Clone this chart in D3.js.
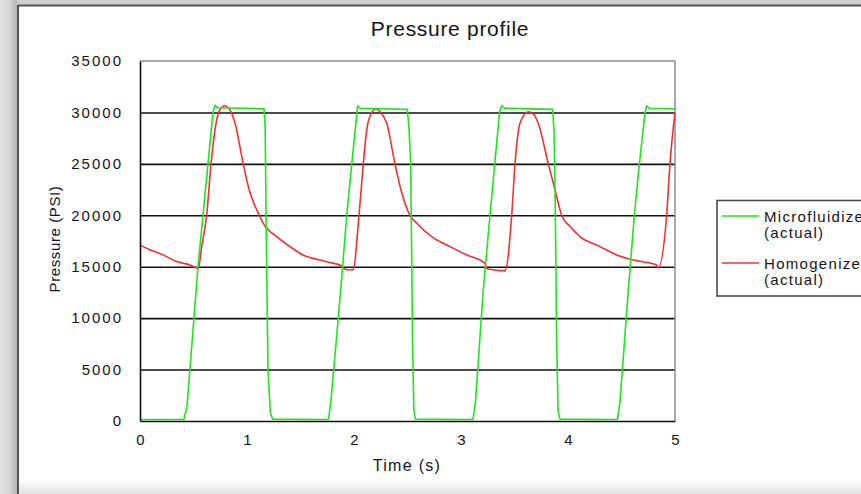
<!DOCTYPE html>
<html>
<head>
<meta charset="utf-8">
<script src="https://cdn.jsdelivr.net/npm/d3@7"></script>
<style>
  html, body { margin: 0; padding: 0; background: #fff; }
  svg { display: block; font-family: "Liberation Sans", Arial, sans-serif; }
</style>
</head>
<body>
<svg id="chart" width="861" height="494"></svg>
<script>
// Time axis (seconds) and pressure axis (PSI) tick labels
const xTicks = [0, 1, 2, 3, 4, 5];
const yTicks = [0, 5000, 10000, 15000, 20000, 25000, 30000, 35000];

// Microfluidizer (actual): time in s, pressure in PSI
const microTime = [0, 0.41, 0.44, 0.542, 0.682, 0.70, 0.73, 1.159, 1.17, 1.178, 1.196, 1.218, 1.24,
  1.762, 1.785, 1.876, 1.932, 1.979, 2.028, 2.035, 2.06, 2.498, 2.514, 2.53, 2.547, 2.559, 2.575,
  3.112, 3.135, 3.208, 3.271, 3.36, 3.38, 3.41, 3.857, 3.87, 3.879, 3.894, 3.907, 3.925,
  4.462, 4.485, 4.564, 4.62, 4.667, 4.72, 4.736, 4.76, 5.0];
const microPressure = [150, 150, 1500, 15000, 30000, 30700, 30450, 30350, 28500, 20000, 5000, 800, 180,
  150, 2000, 12750, 20000, 25000, 30000, 30650, 30400, 30300, 28500, 25000, 8000, 1000, 180,
  150, 1800, 12750, 20000, 30000, 30650, 30400, 30300, 28000, 22460, 8000, 1000, 180,
  150, 1800, 12750, 20000, 25000, 30000, 30650, 30400, 30350];

// Homogenizer (actual): time in s, pressure in PSI
const homoTime = [0, 0.093, 0.215, 0.343, 0.467, 0.545, 0.577, 0.623, 0.664, 0.701, 0.732, 0.788, 0.841,
  0.888, 0.965, 1.021, 1.065, 1.115, 1.152, 1.278, 1.402, 1.523, 1.682, 1.80, 1.869, 1.90, 1.935, 1.991,
  2.047, 2.087, 2.119, 2.156, 2.206, 2.25, 2.306, 2.383, 2.439, 2.523, 2.586, 2.726, 2.897, 3.053,
  3.224, 3.243, 3.411, 3.474, 3.505, 3.551, 3.629, 3.68, 3.722, 3.816, 3.879, 3.941, 4.019, 4.112,
  4.299, 4.455, 4.61, 4.829, 4.844, 4.922, 4.953, 5.0];
const homoPressure = [17100, 16650, 16150, 15500, 15170, 14850, 16950, 20000, 25000, 28300, 29920, 30650, 30230,
  28940, 25000, 22460, 21160, 20000, 19220, 17920, 16950, 16140, 15650, 15350, 15170, 14900, 14700, 14700,
  20000, 25000, 28300, 29800, 30330, 30000, 28940, 25000, 22460, 20000, 19220, 17920, 16950, 16140,
  15330, 14800, 14600, 20000, 25000, 28940, 30070, 29800, 28940, 25000, 22460, 20000, 18900, 17920,
  16950, 16140, 15650, 15170, 14900, 20000, 25000, 30000];

const seriesNames = [["Microfluidizer", "(actual)"], ["Homogenizer", "(actual)"]];
const seriesColors = ["#1ee61e", "#f23232"];

const svg = d3.select("#chart");
const W = 861, H = 494;

// window frame around the chart
const defs = svg.append("defs");
const lg = defs.append("linearGradient").attr("id", "leftBand").attr("x1", 0).attr("x2", 1);
lg.append("stop").attr("offset", "0%").attr("stop-color", "#e4e4e4");
lg.append("stop").attr("offset", "60%").attr("stop-color", "#d2d2d2");
lg.append("stop").attr("offset", "100%").attr("stop-color", "#b4b4b4");
const bg = defs.append("linearGradient").attr("id", "bottomBand").attr("x1", 0).attr("x2", 0).attr("y1", 0).attr("y2", 1);
bg.append("stop").attr("offset", "0%").attr("stop-color", "#ffffff");
bg.append("stop").attr("offset", "100%").attr("stop-color", "#e2e2e2");

svg.append("rect").attr("x", 0).attr("y", 0).attr("width", W).attr("height", H).attr("fill", "#fff");
svg.append("rect").attr("x", 0).attr("y", 0).attr("width", W).attr("height", 5).attr("fill", "#d0d0d0");
svg.append("rect").attr("x", 0).attr("y", 0).attr("width", 17).attr("height", H).attr("fill", "url(#leftBand)");
svg.append("rect").attr("x", 19).attr("y", 480).attr("width", W - 19).attr("height", 14).attr("fill", "url(#bottomBand)");
svg.append("line").attr("x1", 18).attr("x2", W).attr("y1", 5.5).attr("y2", 5.5).attr("stroke", "#555").attr("stroke-width", 2);
svg.append("line").attr("x1", 18).attr("x2", 18).attr("y1", 5).attr("y2", H).attr("stroke", "#555").attr("stroke-width", 2);

// plot area
const plot = { left: 140, right: 675, top: 61, bottom: 421 };
const x = d3.scaleLinear().domain([0, 5]).range([plot.left, plot.right]);
const y = d3.scaleLinear().domain([0, 35000]).range([plot.bottom, plot.top]);

// horizontal grid lines
const grid = svg.append("g").attr("transform", `translate(${plot.left},0)`)
  .call(d3.axisLeft(y).tickValues(yTicks.filter(v => v > 0 && v < 35000))
    .tickSize(-(plot.right - plot.left)).tickFormat(""));
grid.select(".domain").remove();
grid.selectAll(".tick line").attr("stroke", "#111").attr("stroke-width", 1.6);

// frame: top and right in grey
svg.append("line").attr("x1", plot.left).attr("x2", plot.right).attr("y1", plot.top).attr("y2", plot.top)
  .attr("stroke", "#8c8c8c").attr("stroke-width", 1.5);
svg.append("line").attr("x1", plot.right).attr("x2", plot.right).attr("y1", plot.top).attr("y2", plot.bottom)
  .attr("stroke", "#8c8c8c").attr("stroke-width", 1.5);

// series lines
const microData = microTime.map((t, i) => [t, microPressure[i]]);
const homoData = homoTime.map((t, i) => [t, homoPressure[i]]);
const lineGen = d3.line().x(d => x(d[0])).y(d => y(d[1]));
svg.append("path").datum(homoData).attr("fill", "none").attr("stroke", seriesColors[1])
  .attr("stroke-width", 1.6).attr("stroke-linejoin", "round")
  .attr("d", lineGen.curve(d3.curveMonotoneX));
svg.append("path").datum(microData).attr("fill", "none").attr("stroke", seriesColors[0])
  .attr("stroke-width", 1.6).attr("stroke-linejoin", "round")
  .attr("d", d3.line().x(d => x(d[0])).y(d => y(d[1]))(microData));

// axes
const yAxis = svg.append("g").attr("transform", `translate(${plot.left},0)`)
  .call(d3.axisLeft(y).tickValues(yTicks).tickSize(0).tickPadding(17).tickFormat(d3.format("d")));
yAxis.select(".domain").attr("stroke", "#111").attr("stroke-width", 1.6);
yAxis.selectAll("text").attr("font-size", 15).attr("letter-spacing", 2)
  .attr("fill", "#141420").attr("font-family", "'Liberation Sans', Arial, sans-serif");

const xAxis = svg.append("g").attr("transform", `translate(0,${plot.bottom})`)
  .call(d3.axisBottom(x).tickValues(xTicks).tickSize(0).tickPadding(13).tickFormat(d3.format("d")));
xAxis.select(".domain").attr("stroke", "#111").attr("stroke-width", 1.6);
xAxis.selectAll("text").attr("font-size", 15)
  .attr("fill", "#141420").attr("font-family", "'Liberation Sans', Arial, sans-serif");

// titles
svg.append("text").attr("x", 450).attr("y", 36).attr("text-anchor", "middle")
  .attr("font-size", 21).attr("letter-spacing", 0.7).attr("fill", "#141420").text("Pressure profile");
svg.append("text").attr("x", 407).attr("y", 471).attr("text-anchor", "middle")
  .attr("font-size", 16).attr("letter-spacing", 1.3).attr("fill", "#141420").text("Time (s)");
svg.append("text").attr("transform", "translate(60,239) rotate(-90)").attr("text-anchor", "middle")
  .attr("font-size", 15).attr("letter-spacing", 0.6).attr("fill", "#141420").text("Pressure (PSI)");

// legend (box runs past the right edge of the page)
const legend = svg.append("g");
legend.append("rect").attr("x", 717).attr("y", 200.5).attr("width", 200).attr("height", 95.5)
  .attr("fill", "#fff").attr("stroke", "#4a4a4a").attr("stroke-width", 1.6);
const items = legend.selectAll("g.item").data(seriesNames).join("g").attr("class", "item")
  .attr("transform", (d, i) => `translate(0,${i * 47})`);
items.append("line").attr("x1", 722).attr("x2", 759).attr("y1", 216).attr("y2", 216)
  .attr("stroke", (d, i) => seriesColors[i]).attr("stroke-width", 1.6);
items.append("text").attr("x", 764).attr("y", 221.5).attr("font-size", 15).attr("letter-spacing", 1.3)
  .attr("fill", "#141420").text(d => d[0]);
items.append("text").attr("x", 764).attr("y", 238).attr("font-size", 15).attr("letter-spacing", 1.3)
  .attr("fill", "#141420").text(d => d[1]);
</script>
</body>
</html>
